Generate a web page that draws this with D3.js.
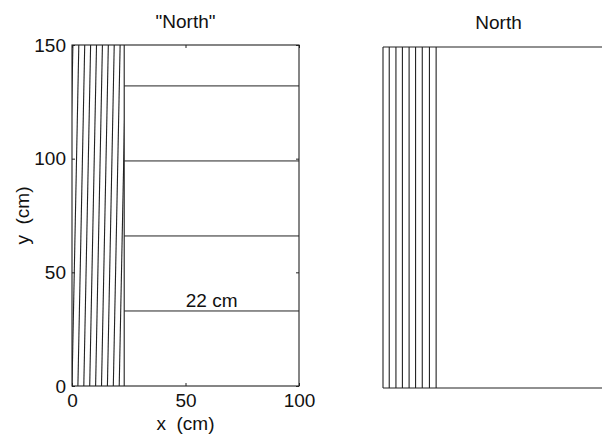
<!DOCTYPE html>
<html>
<head>
<meta charset="utf-8">
<script src="https://cdn.jsdelivr.net/npm/d3@7"></script>
<style>
  body { margin: 0; background: #fff; }
  svg { display: block; font-family: "Liberation Sans", Arial, Helvetica, sans-serif; }
  .axis path { display: none; }
  .axis line { stroke: #222; }
  .axis text { font-size: 19px; fill: #111; }
</style>
</head>
<body>
<svg id="chart" width="602" height="435"></svg>
<script>
// grating region width (cm) and horizontal strip levels
const regionWidth = 23;
const stripLevels = [33, 66, 99, 132];
// slanted lines in the "North" panel: x at y=0 and at y=150 (cm)
const slantBottom = [-2.6, 0, 2.6, 5.2, 7.8, 10.4, 13.0, 15.6, 18.2, 20.8];
const slantTop = [0.4, 3.0, 5.6, 8.2, 10.8, 13.4, 16.0, 18.6, 21.2, 23.8];
// vertical lines in the North panel (cm)
const verticalX = [0, 2.7, 5.6, 8.4, 11.3, 14.1, 17.0, 20.1, 23.0];
const xTicks = [0, 50, 100];
const yTicks = [0, 50, 100, 150];

const svg = d3.select("#chart");
const ink = "#222";

// ---- left panel ----
const xL = d3.scaleLinear().domain([0, 100]).range([72, 299]);
const yL = d3.scaleLinear().domain([0, 150]).range([386, 45]);

svg.append("defs").append("clipPath").attr("id", "clipL")
  .append("rect")
  .attr("x", xL(0)).attr("y", yL(150))
  .attr("width", xL(regionWidth) - xL(0))
  .attr("height", yL(0) - yL(150));

const left = svg.append("g");

left.append("g").attr("clip-path", "url(#clipL)")
  .selectAll("line").data(slantBottom).enter().append("line")
  .attr("x1", d => xL(d)).attr("y1", yL(0))
  .attr("x2", (d, i) => xL(slantTop[i])).attr("y2", yL(150))
  .attr("stroke", ink).attr("stroke-width", 1.1);

left.append("line")
  .attr("x1", xL(regionWidth)).attr("x2", xL(regionWidth))
  .attr("y1", yL(0)).attr("y2", yL(150))
  .attr("stroke", ink).attr("stroke-width", 1.1);

left.selectAll(".strip").data(stripLevels).enter().append("line")
  .attr("class", "strip")
  .attr("x1", xL(regionWidth)).attr("x2", xL(100))
  .attr("y1", d => yL(d)).attr("y2", d => yL(d))
  .attr("stroke", ink).attr("stroke-width", 1);

left.append("rect")
  .attr("x", xL(0)).attr("y", yL(150))
  .attr("width", xL(100) - xL(0)).attr("height", yL(0) - yL(150))
  .attr("fill", "none").attr("stroke", ink).attr("stroke-width", 1.1);

left.append("g").attr("class", "axis")
  .attr("transform", `translate(0,${yL(0)})`)
  .call(d3.axisBottom(xL).tickValues(xTicks).tickSizeInner(-3).tickSizeOuter(0).tickPadding(8));
left.append("g").attr("class", "axis")
  .attr("transform", `translate(0,${yL(150)})`)
  .call(d3.axisTop(xL).tickValues(xTicks).tickSizeInner(-3).tickSizeOuter(0).tickFormat(""));
left.append("g").attr("class", "axis")
  .attr("transform", `translate(${xL(0)},0)`)
  .call(d3.axisLeft(yL).tickValues(yTicks).tickSizeInner(-3).tickSizeOuter(0).tickPadding(6));
left.append("g").attr("class", "axis")
  .attr("transform", `translate(${xL(100)},0)`)
  .call(d3.axisRight(yL).tickValues(yTicks).tickSizeInner(-3).tickSizeOuter(0).tickFormat(""));

left.append("text")
  .attr("x", (xL(regionWidth) + xL(100)) / 2).attr("y", yL(stripLevels[0]) - 4)
  .attr("text-anchor", "middle").attr("font-size", 19).attr("fill", "#111")
  .text("22 cm");

left.append("text")
  .attr("x", (xL(0) + xL(100)) / 2).attr("y", 28)
  .attr("text-anchor", "middle").attr("font-size", 19).attr("fill", "#111")
  .text("\"North\"");

left.append("text")
  .attr("x", (xL(0) + xL(100)) / 2).attr("y", 430)
  .attr("text-anchor", "middle").attr("font-size", 19).attr("fill", "#111")
  .attr("xml:space", "preserve")
  .text("x  (cm)");

left.append("text")
  .attr("transform", `translate(29,${(yL(0) + yL(150)) / 2}) rotate(-90)`)
  .attr("text-anchor", "middle").attr("font-size", 19).attr("fill", "#111")
  .attr("xml:space", "preserve")
  .text("y  (cm)");

// ---- right panel ----
const xR = d3.scaleLinear().domain([0, 100]).range([383, 614]);
const yR = d3.scaleLinear().domain([0, 150]).range([388, 47]);

const right = svg.append("g");

right.selectAll("line.v").data(verticalX).enter().append("line")
  .attr("class", "v")
  .attr("x1", d => xR(d)).attr("x2", d => xR(d))
  .attr("y1", yR(0)).attr("y2", yR(150))
  .attr("stroke", ink).attr("stroke-width", 1.1);

right.append("line")
  .attr("x1", xR(0)).attr("x2", xR(100))
  .attr("y1", yR(150)).attr("y2", yR(150))
  .attr("stroke", ink).attr("stroke-width", 1.1);
right.append("line")
  .attr("x1", xR(0)).attr("x2", xR(100))
  .attr("y1", yR(0)).attr("y2", yR(0))
  .attr("stroke", ink).attr("stroke-width", 1.1);

right.append("text")
  .attr("x", (xR(0) + xR(100)) / 2).attr("y", 29)
  .attr("text-anchor", "middle").attr("font-size", 19).attr("fill", "#111")
  .text("North");
</script>
</body>
</html>
